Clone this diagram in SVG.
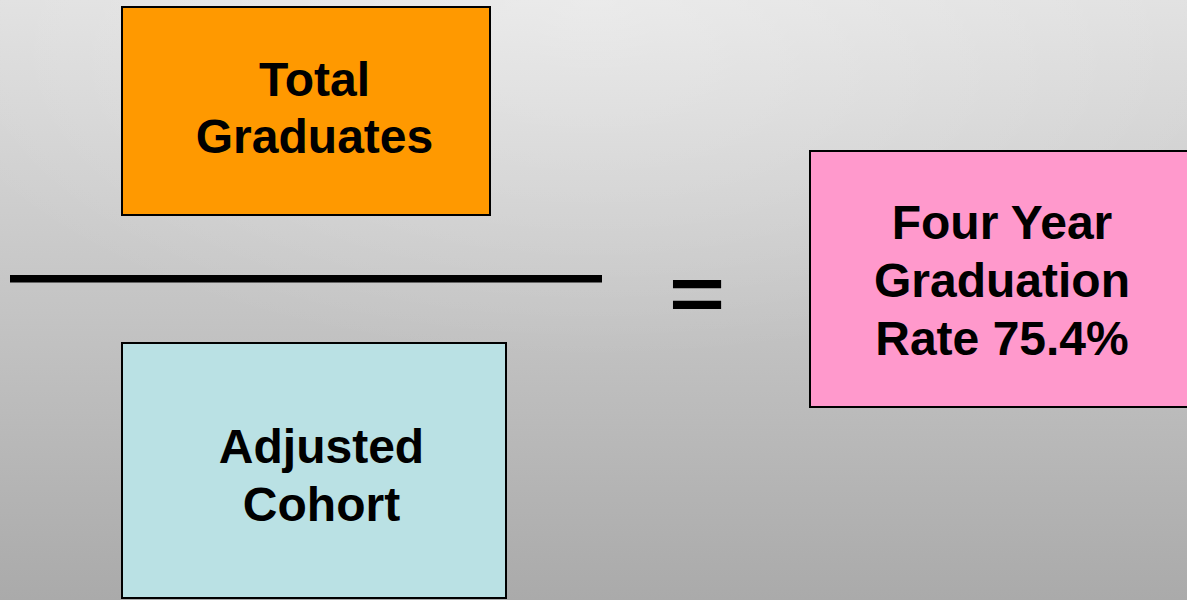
<svg xmlns="http://www.w3.org/2000/svg" width="1187" height="600" viewBox="0 0 1187 600">
  <defs>
    <linearGradient id="bg" x1="0" y1="0" x2="0" y2="1">
      <stop offset="0" stop-color="#e0e0e0"/>
      <stop offset="1" stop-color="#aaaaaa"/>
    </linearGradient>
    <radialGradient id="glow" cx="0.5" cy="0" r="0.6">
      <stop offset="0" stop-color="#ffffff" stop-opacity="0.35"/>
      <stop offset="1" stop-color="#ffffff" stop-opacity="0"/>
    </radialGradient>
    <style>
      .box { stroke: #000000; stroke-width: 2; }
      .lbl { font-family: "Liberation Sans", Arial, sans-serif; font-weight: bold; font-size: 48px; fill: #000000; text-anchor: middle; }
    </style>
  </defs>
  <rect x="0" y="0" width="1187" height="600" fill="url(#bg)"/>
  <rect x="0" y="0" width="1187" height="600" fill="url(#glow)"/>

  <g id="total-graduates">
    <rect class="box" x="122" y="7" width="368" height="208" fill="#ff9900"/>
    <text class="lbl" x="314.5" y="96">Total</text>
    <text class="lbl" x="314.5" y="153">Graduates</text>
  </g>

  <g id="adjusted-cohort">
    <rect class="box" x="122" y="343" width="384" height="255" fill="#bae1e4"/>
    <text class="lbl" x="321.5" y="463">Adjusted</text>
    <text class="lbl" x="321.5" y="521">Cohort</text>
  </g>

  <g id="graduation-rate">
    <rect class="box" x="810" y="151" width="390" height="256" fill="#ff99cc"/>
    <text class="lbl" x="1002" y="239">Four Year</text>
    <text class="lbl" x="1002" y="297">Graduation</text>
    <text class="lbl" x="1002" y="355">Rate 75.4%</text>
  </g>

  <g id="connectors">
    <rect x="10" y="275" width="592" height="7.5" fill="#000000"/>
    <text class="lbl" x="697" y="399.6" transform="scale(1 0.8)" style="font-size:96px">=</text>
  </g>
</svg>
